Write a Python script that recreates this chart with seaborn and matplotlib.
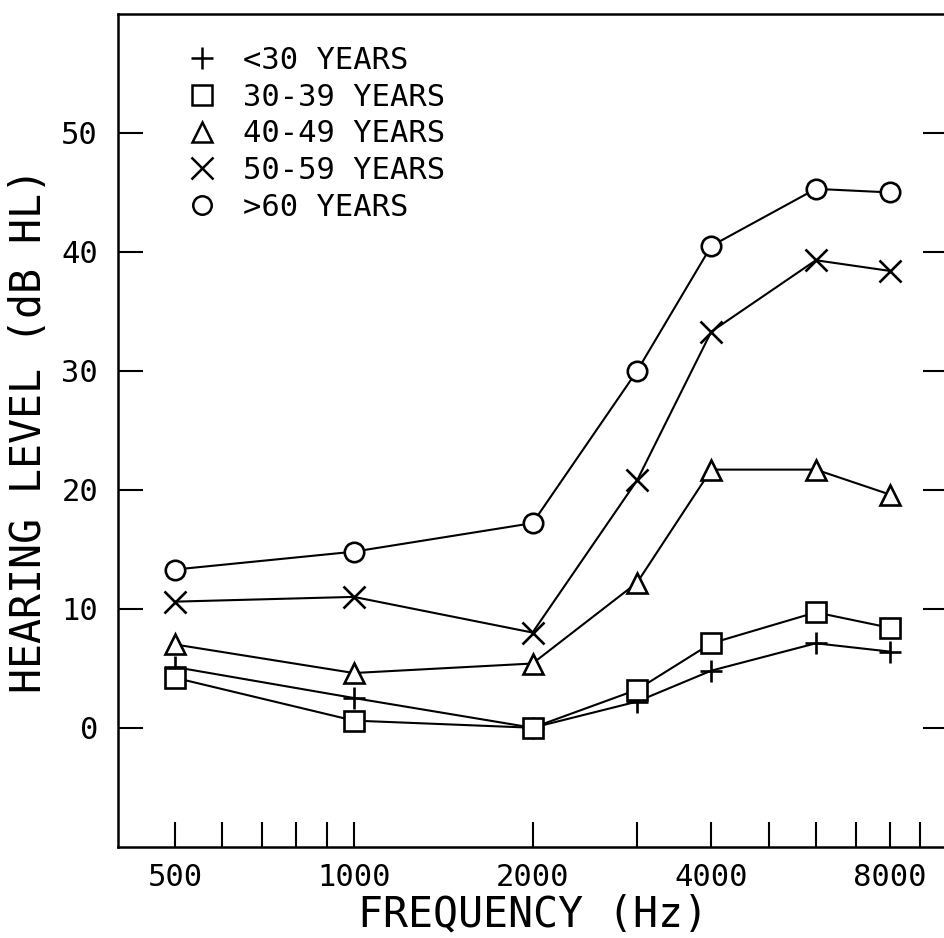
import matplotlib
matplotlib.use("Agg")
import matplotlib.pyplot as plt
from matplotlib.lines import Line2D
import seaborn as sns
import pandas as pd

# ---- data -------------------------------------------------------------
freqs = [500, 1000, 2000, 3000, 4000, 6000, 8000]
groups = ["<30 YEARS", "30-39 YEARS", "40-49 YEARS", "50-59 YEARS", ">60 YEARS"]
under30 = [5.1, 2.5, 0.0, 2.2, 4.8, 7.1, 6.4]
age30_39 = [4.2, 0.6, 0.0, 3.2, 7.1, 9.7, 8.4]
age40_49 = [7.0, 4.6, 5.4, 12.2, 21.7, 21.7, 19.6]
age50_59 = [10.6, 11.0, 8.0, 20.8, 33.3, 39.3, 38.4]
over60 = [13.3, 14.8, 17.2, 30.0, 40.5, 45.3, 45.0]
series = [under30, age30_39, age40_49, age50_59, over60]

major_ticks = [500, 1000, 2000, 4000, 8000]
major_labels = ["500", "1000", "2000", "4000", "8000"]
minor_ticks = [600, 700, 800, 900, 3000, 5000, 6000, 7000, 9000]
y_ticks = [0, 10, 20, 30, 40, 50]

# ---- style ------------------------------------------------------------
sns.set_theme(style="white")
plt.rcParams["font.family"] = ["DejaVu Sans Mono", "DejaVu Sans"]

markers = ["+", "s", "^", "x", "o"]
msizes = [16, 14.5, 15, 16, 14]

fig = plt.figure(figsize=(9.44, 9.38), dpi=100)
ax = fig.add_axes([117.5 / 944, 1 - 846.7 / 938, (947.6 - 117.5) / 944, (846.7 - 14) / 938])

rows = []
for g, vals in zip(groups, series):
    for f, v in zip(freqs, vals):
        rows.append({"freq": f, "level": v, "group": g})
df = pd.DataFrame(rows)

for g, m, ms in zip(groups, markers, msizes):
    sub = df[df["group"] == g]
    sns.lineplot(data=sub, x="freq", y="level", ax=ax, color="black",
                 marker=m, markersize=ms, markerfacecolor="white",
                 markeredgecolor="black", markeredgewidth=1.9,
                 linewidth=1.5, legend=False, zorder=3)

ax.set_xscale("log")
ax.set_xlim(400, 10000)
ax.set_ylim(-10, 60)
ax.set_xticks(major_ticks)
ax.set_xticklabels(major_labels)
ax.set_yticks(y_ticks)
ax.set_yticklabels([str(v) for v in y_ticks])
ax.minorticks_on()
ax.yaxis.set_minor_locator(matplotlib.ticker.NullLocator())
ax.set_xticks(minor_ticks, minor=True)
ax.set_xticklabels([], minor=True)

ax.tick_params(axis="x", which="both", direction="in", length=18, width=1.5,
               bottom=True, top=False, labelsize=22, pad=12, colors="black")
ax.tick_params(axis="y", which="major", direction="in", length=18, width=1.5,
               left=True, right=True, labelsize=22, pad=14, colors="black")

for s in ["left", "bottom", "top", "right"]:
    ax.spines[s].set_visible(True)
    ax.spines[s].set_color("black")
    ax.spines[s].set_linewidth(1.8)

ax.set_xlabel("FREQUENCY (Hz)", fontsize=30, labelpad=1, color="black")
ax.set_ylabel("HEARING LEVEL (dB HL)", fontsize=30, labelpad=8, color="black")

handles = [Line2D([], [], linestyle="none", marker=m, markersize=ms * 0.95,
                  markerfacecolor="white", markeredgecolor="black",
                  markeredgewidth=1.8, color="black")
           for m, ms in zip(markers, msizes)]
leg = ax.legend(handles, groups, loc="upper left",
                bbox_to_anchor=(186.4 / 944, 1 - 46 / 938),
                bbox_transform=fig.transFigure, frameon=False,
                fontsize=22, handlelength=1.0, handletextpad=0.84,
                labelspacing=0.25, borderpad=0, borderaxespad=0)
for t in leg.get_texts():
    t.set_color("black")

fig.savefig("out.png", dpi=100, facecolor="white")
